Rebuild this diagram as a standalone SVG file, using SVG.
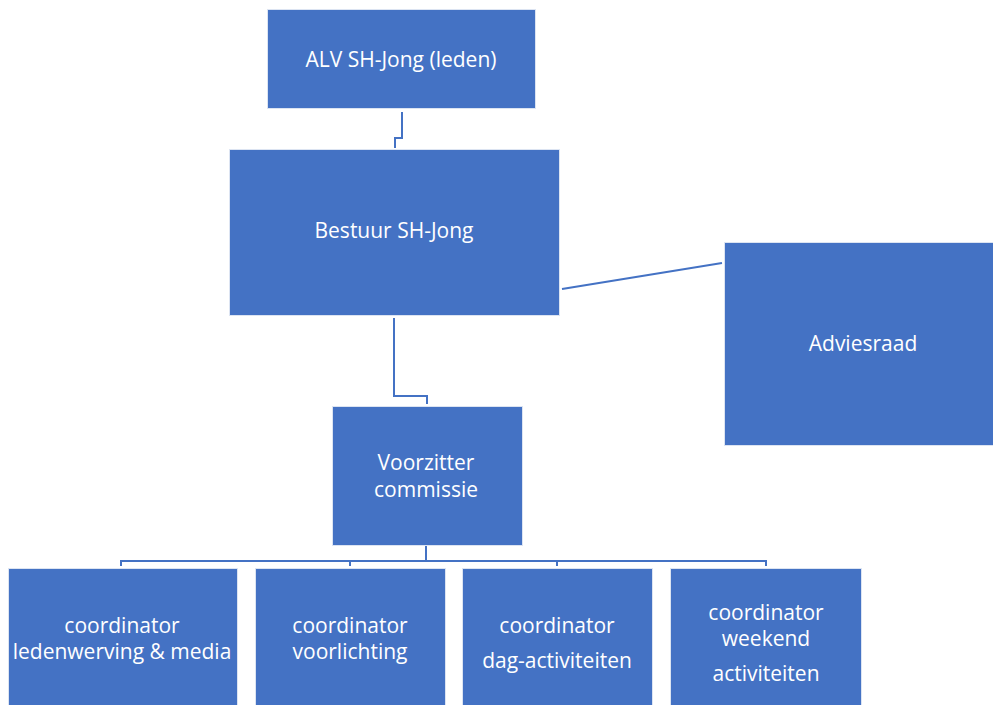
<svg xmlns="http://www.w3.org/2000/svg" width="993" height="705" viewBox="0 0 993 705">
<defs>
<style>
.box{fill:#4472C4;stroke:#DCE4F2;stroke-width:1}
.t{fill:#FFFFFF;font-family:"Open Sans","Noto Sans","Liberation Sans",sans-serif;font-size:21px;text-anchor:middle}
.c{fill:none;stroke:#4472C4;stroke-width:2}
</style>
</defs>
<rect width="993" height="705" fill="#FFFFFF"/>
<g id="connectors">
<polyline class="c" points="402,112 402,138 395,138 395,148"/>
<polyline class="c" points="394,318 394,396 427,396 427,404"/>
<line class="c" x1="562" y1="289" x2="722" y2="263"/>
<line class="c" x1="426" y1="545" x2="426" y2="561"/>
<polyline class="c" points="121,566 121,561 766,561 766,566"/>
<line class="c" x1="350" y1="561" x2="350" y2="566"/>
<line class="c" x1="557" y1="561" x2="557" y2="566"/>
</g>
<g id="alv">
<rect class="box" x="267.5" y="9.5" width="268" height="99"/>
<text class="t" x="401" y="67">ALV SH-Jong (leden)</text>
</g>
<g id="bestuur">
<rect class="box" x="229.5" y="149.5" width="330" height="166"/>
<text class="t" x="394" y="238">Bestuur SH-Jong</text>
</g>
<g id="adviesraad">
<rect class="box" x="724.5" y="242.5" width="280" height="203"/>
<text class="t" x="863" y="351">Adviesraad</text>
</g>
<g id="voorzitter">
<rect class="box" x="332.5" y="406.5" width="190" height="139"/>
<text class="t" x="426" y="470">Voorzitter</text>
<text class="t" x="426" y="497">commissie</text>
</g>
<g id="coord-leden">
<rect class="box" x="8.5" y="568.5" width="229" height="150"/>
<text class="t" x="122" y="633">coordinator</text>
<text class="t" x="122" y="659">ledenwerving &amp; media</text>
</g>
<g id="coord-voorlichting">
<rect class="box" x="255.5" y="568.5" width="190" height="150"/>
<text class="t" x="350" y="633">coordinator</text>
<text class="t" x="350" y="659">voorlichting</text>
</g>
<g id="coord-dag">
<rect class="box" x="462.5" y="568.5" width="190" height="150"/>
<text class="t" x="557" y="633">coordinator</text>
<text class="t" x="557" y="668">dag-activiteiten</text>
</g>
<g id="coord-weekend">
<rect class="box" x="670.5" y="568.5" width="191" height="150"/>
<text class="t" x="766" y="620">coordinator</text>
<text class="t" x="766" y="646">weekend</text>
<text class="t" x="766" y="681">activiteiten</text>
</g>
</svg>
